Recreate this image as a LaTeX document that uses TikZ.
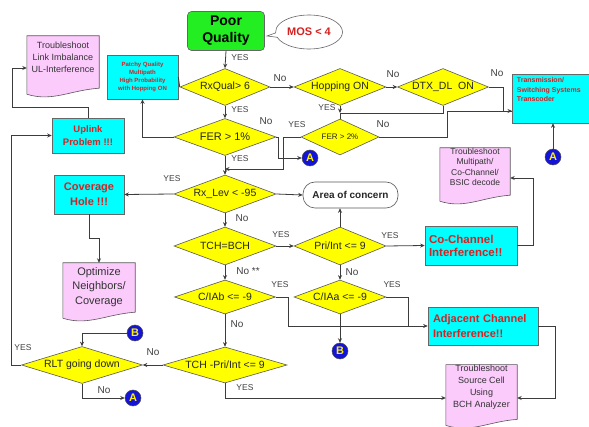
\documentclass[tikz,border=0pt]{standalone}
\usepackage{fontspec}
\setmainfont{Liberation Sans}
\usetikzlibrary{shapes.geometric,shapes.callouts,calc,backgrounds,arrows.meta}
\definecolor{dyel}{HTML}{FFFF00}
\definecolor{dcyan}{HTML}{00FFFF}
\definecolor{dpink}{HTML}{FBCBFB}
\definecolor{dgreen}{HTML}{22EE22}
\definecolor{dred}{HTML}{D42222}
\definecolor{dblue}{HTML}{1414D8}
\definecolor{dline}{HTML}{3C3C3C}
\newcommand\fsz[2]{\fontsize{#1pt}{#2pt}\selectfont}
\newcommand\docpath[2]{%
  \begin{scope}[on background layer]
  \path[docbg] (#1.north west) -- (#1.north east) -- ($(#1.south east)+(0,#2-6)$)
    .. controls ($(#1.south west)!0.6!(#1.south east)+(0,#2-4)$) and ($(#1.south west)!0.35!(#1.south east)+(0,#2+8)$) ..
    ($(#1.south west)+(0,#2)$) -- cycle;
  \end{scope}}
\tikzset{
 dia/.style={diamond, aspect=2.6, draw=black!65, line width=0.6pt, fill=dyel, inner sep=0pt, text=black!85, font={\fsz{10.5}{12}}},
 cbox/.style={rectangle, draw=black!60, line width=0.6pt, fill=dcyan, text=dred, inner sep=2pt, align=center},
 docn/.style={rectangle, inner sep=0pt, align=center, text=black!80},
 docbg/.style={fill=dpink, draw=black!65, line width=0.6pt},
 circ/.style={circle, fill=dblue, draw=black!70, line width=0.5pt, text=yellow, font={\bfseries\fsz{11}{12}}, minimum size=16pt, inner sep=0pt},
 conn/.style={draw=dline, line width=0.8pt},
 arr/.style={conn, -{Stealth[length=4.5pt,width=4pt]}},
 yes/.style={text=black!75, font={\fsz{8.5}{10}}, inner sep=0pt},
 no/.style={text=black!75, font={\fsz{10}{11}}, inner sep=0pt},
}
\begin{document}
\begin{tikzpicture}[x=1pt,y=-1pt]
\begin{pgfonlayer}{background}
\fill[white] (0,0) rectangle (589,427);
\end{pgfonlayer}
\useasboundingbox (0,0) rectangle (589,427);

% top
\node[rectangle, rounded corners=4pt, draw=black!60, line width=0.6pt, fill=dgreen, minimum width=77pt, minimum height=39pt, align=center, font={\bfseries\fsz{14}{17}}] (pq) at (226,31) {Poor\\Quality};
\coordinate (mostip) at (267,36);
\node[ellipse callout, callout absolute pointer={(mostip)}, draw=black!60, line width=0.6pt, fill=white, minimum width=67pt, minimum height=34pt, inner sep=0pt, text=dred, font={\bfseries\fsz{11}{12}}] (mos) at (309,32) {MOS < 4};

% diamonds row 1
\node[dia, minimum width=90pt, minimum height=37pt] (rxq) at (225,87) {RxQual> 6};
\node[dia, minimum width=92pt, minimum height=37pt] (hop) at (340,87) {Hopping ON};
\node[dia, minimum width=91pt, minimum height=37pt] (dtx) at (443,87) {DTX\_DL\ \ ON};

% transmission box
\node[cbox, minimum width=77pt, minimum height=49pt] (trans) at (550.5,98.5) {};
\node[anchor=north west, inner sep=0pt, align=left, text=dred, font={\bfseries\fsz{7}{9.5}}] (transtxt) at ([xshift=5pt,yshift=-4pt]trans.north west) {Transmission/\\Switching Systems\\Transcoder};

% patchy
\node[cbox, minimum width=71pt, minimum height=44pt, font={\bfseries\fsz{6}{8.3}}] (patchy) at (142.5,77) {Patchy Quality\\Multipath\\High Probability\\with Hopping ON};

% link imbalance doc
\node[docn, minimum width=72pt, minimum height=42pt, font={\fsz{9}{12}}] (linkimb) at (63,57) {Troubleshoot\\Link Imbalance\\UL-Interference};
\docpath{linkimb}{16}

% FER row
\node[dia, aspect=2.75, minimum width=102pt, minimum height=37pt, font={\fsz{11}{12}}] (fer1) at (225,137) {FER > 1\%};
\node[dia, aspect=2.2, minimum width=78pt, minimum height=36pt, font={\fsz{8}{10}}] (fer2) at (340,137) {FER > 2\%};
\node[circ] (A1) at (310,158) {A};
\node[circ] (A2) at (553,157) {A};

% uplink
\node[cbox, minimum width=72pt, minimum height=35pt, font={\bfseries\fsz{9.5}{13}}] (uplink) at (88,135.5) {Uplink\\Problem !!!};

% multipath doc
\node[docn, minimum width=70pt, minimum height=38pt, font={\fsz{8.5}{10.5}}] (multi) at (475,167) {Troubleshoot\\Multipath/\\Co-Channel/\\BSIC decode};
\docpath{multi}{15}

% Rx_Lev row
\node[dia, aspect=2.7, minimum width=102pt, minimum height=38pt] (rxlev) at (225,194) {Rx\_Lev < -95};
\node[rectangle, rounded corners=12pt, draw=black!65, line width=0.6pt, fill=white, minimum width=95pt, minimum height=26pt, inner sep=0pt, font={\bfseries\fsz{10}{12}}, text=black!85] (area) at (350.5,195) {Area of concern};
\node[cbox, minimum width=70pt, minimum height=39pt, font={\bfseries\fsz{11}{15}}] (cover) at (89,194.5) {Coverage\\Hole !!!};

% optimize doc
\node[docn, minimum width=72pt, minimum height=48pt, font={\fsz{11}{14.5}}] (opt) at (99,287) {Optimize\\Neighbors/\\Coverage};
\docpath{opt}{7}

% TCH row
\node[dia, aspect=2.7, minimum width=102pt, minimum height=38pt] (tchbch) at (225,246) {TCH=BCH};
\node[dia, aspect=2.45, minimum width=92pt, minimum height=38pt] (pri) at (340,246) {Pri/Int <= 9};
\node[cbox, minimum width=92pt, minimum height=39pt, text width=84pt, align=left, font={\bfseries\fsz{11.5}{13}}] (cochan) at (471,245.5) {Co-Channel\\Interference!!};

% C/IA row
\node[dia, aspect=3, minimum width=101pt, minimum height=34pt] (ciab) at (225,297) {C/IAb <= -9};
\node[dia, aspect=2.7, minimum width=92pt, minimum height=34pt] (ciaa) at (340,297) {C/IAa <= -9};
\node[circ] (B2) at (340,351) {B};
\node[cbox, minimum width=110pt, minimum height=38pt, text width=100pt, align=left, font={\bfseries\fsz{11}{14.5}}] (adj) at (483,326) {Adjacent Channel\\Interference!!};

% bottom row
\node[dia, aspect=3.4, minimum width=124pt, minimum height=36pt] (tchpri) at (225,365) {TCH -Pri/Int <= 9};
\node[dia, aspect=3.3, minimum width=121pt, minimum height=37pt] (rlt) at (82,365) {RLT going down};
\node[circ] (B1) at (135,333) {B};
\node[circ] (A3) at (133,398) {A};

% source cell doc
\node[docn, minimum width=71pt, minimum height=44pt, font={\fsz{9}{12}}] (src) at (481.5,387) {Troubleshoot\\Source Cell\\Using\\BCH Analyzer};
\docpath{src}{16}

% connectors
\coordinate (tin) at (512,111);
\coordinate (jh) at (340,113);
\coordinate (jf) at (225,169);

\draw[arr] (pq.south) -- (rxq.north);
\draw[arr] (rxq.east) -- (hop.west);
\draw[arr] (hop.east) -- (dtx.west);
\draw[conn] (dtx.east) -- ++(15,0) |- (tin);
\draw[arr] (fer2.east) -- ++(68,0) |- (tin);
\draw[conn] (dtx.south) |- (jh);
\draw[arr] (hop.south) -- (jh);
\draw[conn] (jh) -- (fer2.north);
\draw[arr] (rxq.south) -- (fer1.north);
\draw[conn] (rxq.west) -- (patchy.east);
\draw[arr] (fer1.west) -| (patchy.south);
\draw[arr] (fer1.east) -- ++(2,0) |- (A1.west);
\draw[arr] (fer1.south) -- (rxlev.north);
\draw[arr] (fer2.west) -- ++(-17,0) |- (jf);
\draw[arr] (A2.north) -- (A2.north |- trans.south);
\draw[arr] (uplink.north) -- ++(0,-10) -- ++(-76,0) |- ([yshift=-11pt]linkimb.west);
\draw[arr] (rxlev.west) -- (cover.east);
\draw[arr] (rxlev.east) -- (area.west);
\draw[arr] (rxlev.south) -- (tchbch.north);
\draw[arr] (cover.south) -- ++(0,24) -| (opt.north);
\draw[arr] (tchbch.east) -- (pri.west);
\draw[arr] (pri.north) -- (pri.north |- area.south);
\draw[arr] (pri.east) -- (cochan.west);
\draw[arr] (cochan.east) -- ++(16,0) |- ([yshift=-11pt]multi.east);
\draw[arr] (pri.south) -- (ciaa.north);
\draw[arr] (tchbch.south) -- (ciab.north);
\draw[arr] (ciab.east) -- ++(13,0) |- (adj.west);
\draw[conn] (ciaa.east) -- ++(22,0) -- ++(0,29);
\draw[arr] (ciaa.south) -- (B2.north);
\draw[arr] (adj.east) -- ++(17,0) |- ([yshift=-11pt]src.east);
\draw[arr] (ciab.south) -- (tchpri.north);
\draw[arr] (tchpri.south) |- ([yshift=-11pt]src.west);
\draw[arr] (tchpri.west) -- (rlt.east);
\draw[arr] (B1.west) -| (rlt.north);
\draw[arr] (rlt.south) |- (A3.west);
\draw[arr] (rlt.west) -- ++(-10,0) |- (uplink.west);

% labels
\node[yes] (l1) at (240,58) {YES};
\node[no] (l2) at (280,78) {No};
\node[no] (l3) at (393,74) {No};
\node[no] (l4) at (497,73) {No};
\node[yes] (l5) at (327,108) {YES};
\node[yes] (l6) at (240,110) {YES};
\node[no] (l7) at (266,121) {No};
\node[yes] (l8) at (297,125) {YES};
\node[no] (l9) at (383,124) {No};
\node[yes] (l10) at (240,159) {YES};
\node[yes] (l11) at (172,179) {YES};
\node[no] (l12) at (242,218) {No};
\node[yes] (l13) at (281,235) {YES};
\node[yes] (l14) at (390,236) {YES};
\node[no] (l15) at (352,272) {No};
\node[no] (l16) at (248,271) {No **};
\node[yes] (l17) at (280,285) {YES};
\node[yes] (l18) at (392,285) {YES};
\node[no] (l19) at (237,324) {No};
\node[yes] (l20) at (245,388) {YES};
\node[no] (l21) at (153,352) {No};
\node[no] (l22) at (104,390) {No};
\node[yes] (l23) at (23,348) {YES};
\end{tikzpicture}
\end{document}
